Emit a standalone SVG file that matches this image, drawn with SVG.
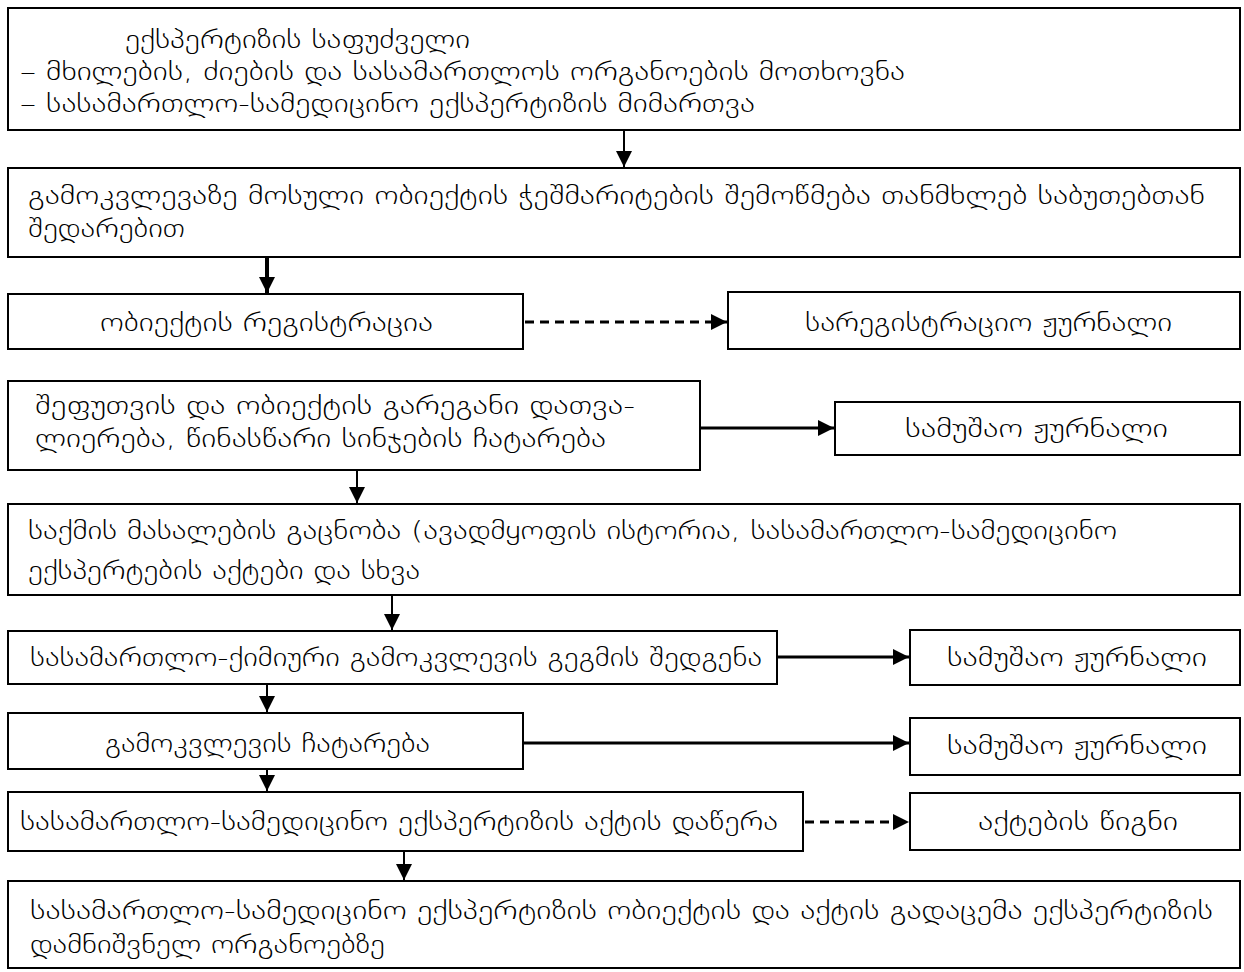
<svg xmlns="http://www.w3.org/2000/svg" width="1244" height="972" viewBox="0 0 1244 972">
<style>
.box{fill:#fff;stroke:#000;stroke-width:2}
.t{font-family:"DejaVu Sans","DejaVu Serif",sans-serif;font-weight:200;font-size:25px;fill:#000}
.c{fill:none;stroke:#000;stroke-width:2}
.h{fill:none;stroke:#000;stroke-width:3}
.d{fill:none;stroke:#000;stroke-width:3;stroke-dasharray:9 6}
</style>
<defs>
<marker id="ah" markerUnits="userSpaceOnUse" markerWidth="16" markerHeight="16" refX="16" refY="8" orient="auto">
<path d="M0,0 L16,8 L0,16 Z" fill="#000"/>
</marker>
</defs>
<rect width="1244" height="972" fill="#fff"/>
<g id="connectors">
<line class="c" x1="624" y1="130" x2="624" y2="167" marker-end="url(#ah)"/>
<line class="c" x1="267" y1="257" x2="267" y2="293" style="stroke-width:4" marker-end="url(#ah)"/>
<line class="d" x1="525" y1="322" x2="727" y2="322" marker-end="url(#ah)"/>
<line class="h" x1="700" y1="428" x2="834" y2="428" marker-end="url(#ah)"/>
<line class="c" x1="357" y1="470" x2="357" y2="503" marker-end="url(#ah)"/>
<line class="c" x1="392" y1="595" x2="392" y2="630" marker-end="url(#ah)"/>
<line class="h" x1="777" y1="657" x2="909" y2="657" marker-end="url(#ah)"/>
<line class="c" x1="267" y1="684" x2="267" y2="712" marker-end="url(#ah)"/>
<line class="h" x1="523" y1="743" x2="909" y2="743" marker-end="url(#ah)"/>
<line class="c" x1="267" y1="769" x2="267" y2="791" marker-end="url(#ah)"/>
<line class="d" x1="805" y1="822" x2="909" y2="822" marker-end="url(#ah)"/>
<line class="c" x1="404" y1="851" x2="404" y2="880" marker-end="url(#ah)"/>
</g>
<g id="n1">
<rect class="box" x="8" y="8" width="1232" height="122"/>
<text class="t" x="125" y="48" textLength="345" lengthAdjust="spacingAndGlyphs">ექსპერტიზის საფუძველი</text>
<text class="t" x="20" y="80" textLength="885" lengthAdjust="spacingAndGlyphs">– მხილების, ძიების და სასამართლოს ორგანოების მოთხოვნა</text>
<text class="t" x="20" y="112" textLength="735" lengthAdjust="spacingAndGlyphs">– სასამართლო-სამედიცინო ექსპერტიზის მიმართვა</text>
</g>
<g id="n2">
<rect class="box" x="8" y="168" width="1232" height="89"/>
<text class="t" x="28" y="204" textLength="1177" lengthAdjust="spacingAndGlyphs">გამოკვლევაზე მოსული ობიექტის ჭეშმარიტების შემოწმება თანმხლებ საბუთებთან</text>
<text class="t" x="28" y="237" textLength="157" lengthAdjust="spacingAndGlyphs">შედარებით</text>
</g>
<g id="n3">
<rect class="box" x="8" y="294" width="515" height="55"/>
<text class="t" x="100" y="331" textLength="333" lengthAdjust="spacingAndGlyphs">ობიექტის რეგისტრაცია</text>
</g>
<g id="n3r">
<rect class="box" x="728" y="292" width="512" height="57"/>
<text class="t" x="805" y="331" textLength="367" lengthAdjust="spacingAndGlyphs">სარეგისტრაციო ჟურნალი</text>
</g>
<g id="n4">
<rect class="box" x="8" y="381" width="692" height="89"/>
<text class="t" x="35" y="414" textLength="600" lengthAdjust="spacingAndGlyphs">შეფუთვის და ობიექტის გარეგანი დათვა-</text>
<text class="t" x="35" y="447" textLength="571" lengthAdjust="spacingAndGlyphs">ლიერება, წინასწარი სინჯების ჩატარება</text>
</g>
<g id="n4r">
<rect class="box" x="835" y="402" width="405" height="53"/>
<text class="t" x="905" y="437" textLength="263" lengthAdjust="spacingAndGlyphs">სამუშაო ჟურნალი</text>
</g>
<g id="n5">
<rect class="box" x="8" y="504" width="1232" height="91"/>
<text class="t" x="28" y="539" textLength="1089" lengthAdjust="spacingAndGlyphs">საქმის მასალების გაცნობა (ავადმყოფის ისტორია, სასამართლო-სამედიცინო</text>
<text class="t" x="28" y="579" textLength="392" lengthAdjust="spacingAndGlyphs">ექსპერტების აქტები და სხვა</text>
</g>
<g id="n6">
<rect class="box" x="8" y="631" width="769" height="53"/>
<text class="t" x="30" y="666" textLength="732" lengthAdjust="spacingAndGlyphs">სასამართლო-ქიმიური გამოკვლევის გეგმის შედგენა</text>
</g>
<g id="n6r">
<rect class="box" x="910" y="630" width="330" height="55"/>
<text class="t" x="947" y="666" textLength="260" lengthAdjust="spacingAndGlyphs">სამუშაო ჟურნალი</text>
</g>
<g id="n7">
<rect class="box" x="8" y="713" width="515" height="56"/>
<text class="t" x="105" y="752" textLength="325" lengthAdjust="spacingAndGlyphs">გამოკვლევის ჩატარება</text>
</g>
<g id="n7r">
<rect class="box" x="910" y="718" width="330" height="57"/>
<text class="t" x="947" y="754" textLength="260" lengthAdjust="spacingAndGlyphs">სამუშაო ჟურნალი</text>
</g>
<g id="n8">
<rect class="box" x="8" y="792" width="795" height="59"/>
<text class="t" x="20" y="830" textLength="758" lengthAdjust="spacingAndGlyphs">სასამართლო-სამედიცინო ექსპერტიზის აქტის დაწერა</text>
</g>
<g id="n8r">
<rect class="box" x="910" y="793" width="330" height="57"/>
<text class="t" x="978" y="830" textLength="200" lengthAdjust="spacingAndGlyphs">აქტების წიგნი</text>
</g>
<g id="n9">
<rect class="box" x="8" y="881" width="1232" height="87"/>
<text class="t" x="30" y="919" textLength="1183" lengthAdjust="spacingAndGlyphs">სასამართლო-სამედიცინო ექსპერტიზის ობიექტის და აქტის გადაცემა ექსპერტიზის</text>
<text class="t" x="30" y="953" textLength="355" lengthAdjust="spacingAndGlyphs">დამნიშვნელ ორგანოებზე</text>
</g>
</svg>
